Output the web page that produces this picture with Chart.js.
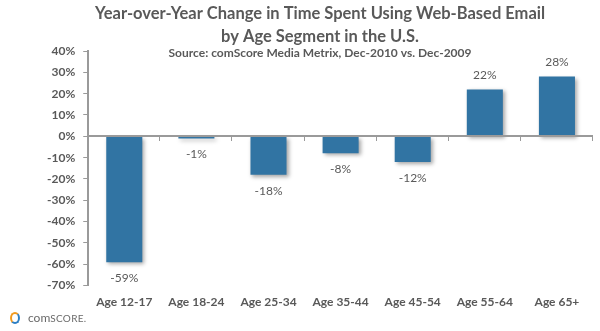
<!DOCTYPE html>
<html>
<head>
<meta charset="utf-8">
<script src="https://cdn.jsdelivr.net/npm/chart.js@4.4.1/dist/chart.umd.min.js"></script>
<style>
  html, body { margin: 0; padding: 0; background: #fff; }
  #wrap { position: relative; width: 600px; height: 331px; }
  #logo { position: absolute; left: 10px; top: 310px; font-family: Lato, "Open Sans", sans-serif; color: #6a6a6a; font-size: 12px; display: flex; align-items: center; }
  #logo .ring { width: 6px; height: 8px; border-radius: 50%; border: 2px solid #f29a1f; border-right-color: #2d7fc4; border-bottom-color: #2d7fc4; margin-right: 8px; }
  #logo .sc { font-size: 10px; letter-spacing: 0.3px; }
</style>
</head>
<body>
<div id="wrap">
  <canvas id="c" width="600" height="331"></canvas>
  <div id="logo"><span class="ring"></span><span>com</span><span class="sc">SCORE.</span></div>
</div>
<script>
const categories = ["Age 12-17", "Age 18-24", "Age 25-34", "Age 35-44", "Age 45-54", "Age 55-64", "Age 65+"];
const changePct = [-59, -1, -18, -8, -12, 22, 28];
const titleLines = ["Year-over-Year Change in Time Spent Using Web-Based Email", "by Age Segment in the U.S."];
const subtitleText = "Source: comScore Media Metrix, Dec-2010 vs. Dec-2009";

const FONT = 'Lato, "Open Sans", sans-serif';
const GRAY = '#595959';
const AXIS = '#9a9a9a';

const titlePlugin = {
  id: 'fixedTitles',
  afterDraw(chart) {
    const ctx = chart.ctx;
    ctx.save();
    ctx.fillStyle = GRAY;
    ctx.textAlign = 'center';
    ctx.textBaseline = 'middle';
    ctx.font = 'bold 16.5px ' + FONT;
    ctx.fillText(titleLines[0], 320, 14);
    ctx.fillText(titleLines[1], 320, 37);
    ctx.font = 'bold 12px ' + FONT;
    ctx.fillText(subtitleText, 320, 53);
    ctx.restore();
  }
};

const shadowPlugin = {
  id: 'barShadow',
  beforeDatasetsDraw(chart) {
    const ctx = chart.ctx;
    ctx.save();
    ctx.shadowColor = 'rgba(0,0,0,0.35)';
    ctx.shadowBlur = 4;
    ctx.shadowOffsetX = 2;
    ctx.shadowOffsetY = 2;
  },
  afterDatasetsDraw(chart) {
    chart.ctx.restore();
  }
};

const zeroAxisPlugin = {
  id: 'zeroAxis',
  afterDatasetsDraw(chart) {
    const ctx = chart.ctx;
    const xs = chart.scales.x, ys = chart.scales.y;
    const y0 = Math.round(ys.getPixelForValue(0));
    ctx.save();
    ctx.strokeStyle = AXIS;
    ctx.lineWidth = 2;
    ctx.beginPath();
    ctx.moveTo(xs.left, y0);
    ctx.lineTo(xs.right, y0);
    ctx.stroke();
    ctx.lineWidth = 1;
    const n = categories.length;
    const step = (xs.right - xs.left) / n;
    ctx.beginPath();
    for (let i = 1; i <= n; i++) {
      const x = Math.round(xs.left + step * i) - 0.5;
      ctx.moveTo(x, y0);
      ctx.lineTo(x, y0 + 5);
    }
    ctx.stroke();
    ctx.restore();
  }
};

const labelPlugin = {
  id: 'valueLabels',
  afterDatasetsDraw(chart) {
    const ctx = chart.ctx;
    const meta = chart.getDatasetMeta(0);
    ctx.save();
    ctx.fillStyle = GRAY;
    ctx.font = '12px ' + FONT;
    ctx.textAlign = 'center';
    ctx.textBaseline = 'middle';
    meta.data.forEach((bar, i) => {
      const v = changePct[i];
      const y = v < 0 ? bar.y + 16 : bar.y - 14;
      ctx.fillText(v + '%', bar.x, y);
    });
    ctx.restore();
  }
};

new Chart(document.getElementById('c'), {
  type: 'bar',
  data: {
    labels: categories,
    datasets: [{
      data: changePct,
      backgroundColor: '#3174a3',
      borderWidth: 0,
      barPercentage: 0.5,
      categoryPercentage: 1.0
    }]
  },
  options: {
    responsive: false,
    animation: false,
    layout: { padding: { top: 51, right: 7, left: 39, bottom: 13 } },
    plugins: { legend: { display: false }, tooltip: { enabled: false } },
    scales: {
      x: {
        position: 'bottom',
        grid: { display: false, drawTicks: false },
        border: { display: false },
        ticks: { color: GRAY, font: { family: FONT, size: 12, weight: 'bold' }, padding: 9 }
      },
      y: {
        min: -70,
        max: 40,
        ticks: {
          stepSize: 10,
          color: GRAY,
          font: { family: FONT, size: 12, weight: 'bold' },
          padding: 8,
          callback: v => v + '%'
        },
        grid: { display: true, drawOnChartArea: false, drawTicks: true, tickLength: 5, color: AXIS },
        border: { display: true, color: AXIS, width: 2 }
      }
    }
  },
  plugins: [shadowPlugin, zeroAxisPlugin, labelPlugin, titlePlugin]
});
</script>
</body>
</html>
